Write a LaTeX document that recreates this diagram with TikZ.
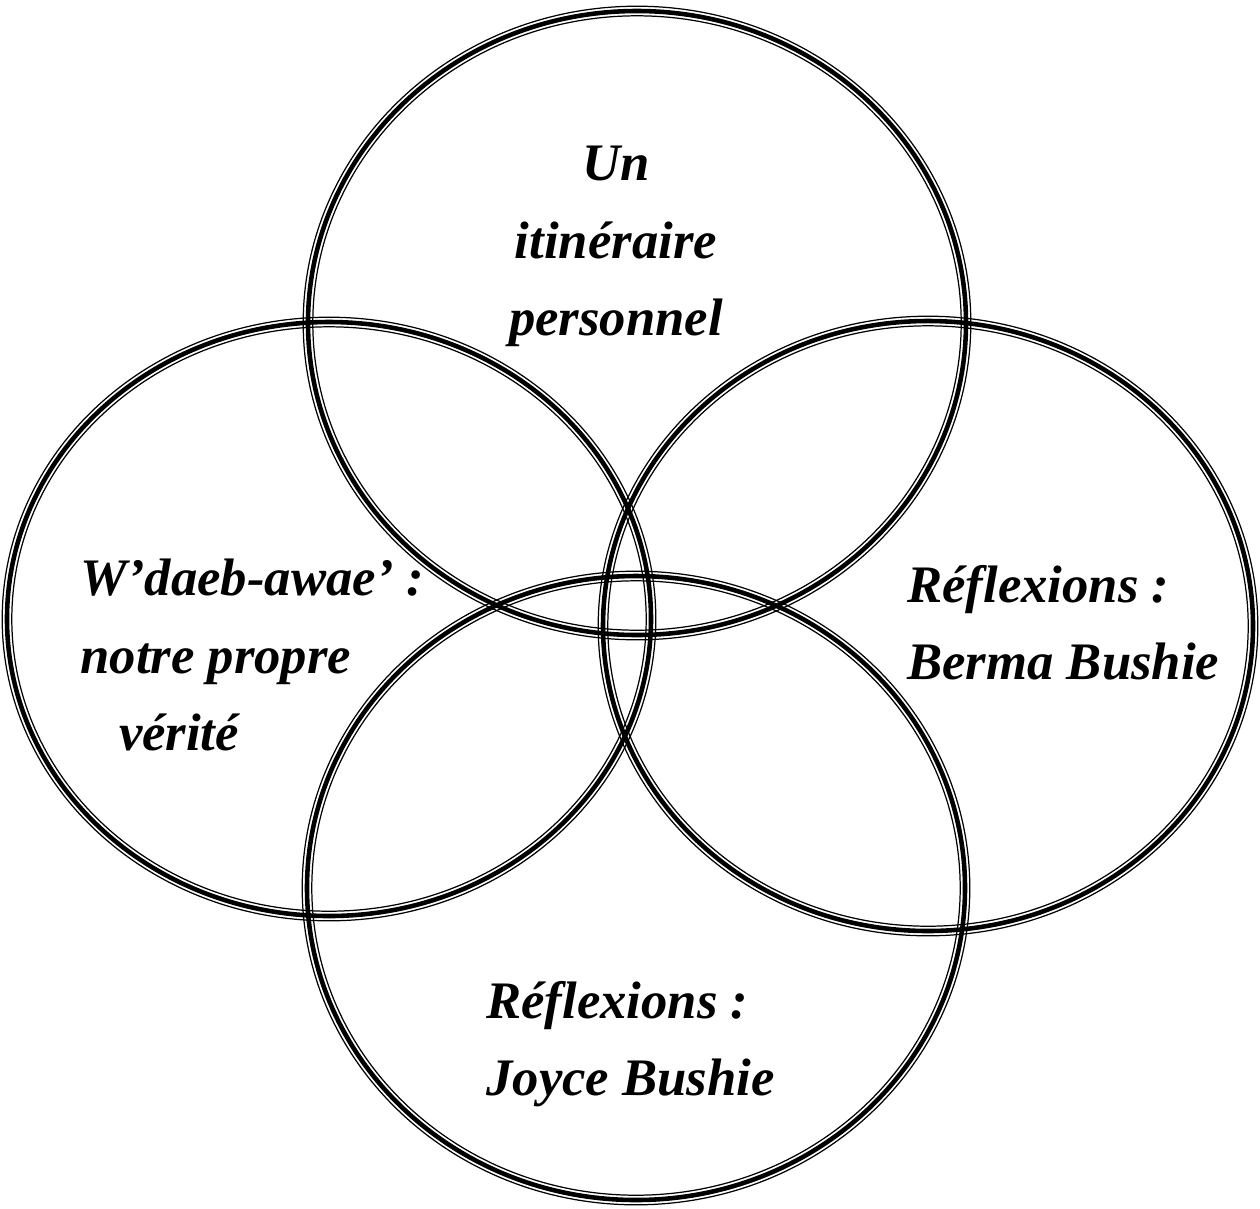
\documentclass[tikz,border=0pt]{standalone}
\usepackage{fontspec}
\setmainfont{Liberation Serif}
\usepackage{tikz}

% one ring of the diagram: thin line, thick line, thin line
\newcommand{\vennring}[3]{%
  \draw[ringthin] #1 ellipse [x radius=#2+4.8, y radius=#3+4.8];
  \draw[ringthin] #1 ellipse [x radius=#2-4.8, y radius=#3-4.8];
  \draw[ringthick] #1 ellipse [x radius=#2, y radius=#3];
}

\begin{document}
\begin{tikzpicture}[x=0.02cm,y=-0.02cm]

  \tikzset{ringthin/.style = {line width=0.7pt}}
  \tikzset{ringthick/.style = {line width=2.6pt}}
  \tikzset{label/.style = {inner sep=0pt, font=\fontsize{30}{44}\selectfont\bfseries\itshape}}
  \useasboundingbox (0,0) rectangle (1260,1208);
  % rings
  \coordinate (ctop)    at (637,323);
  \coordinate (cleft)   at (329,619);
  \coordinate (cright)  at (928,626);
  \coordinate (cbottom) at (636,888);
  \vennring{(ctop)}{329}{312}
  \vennring{(cleft)}{322}{297}
  \vennring{(cright)}{325}{305}
  \vennring{(cbottom)}{329}{312}
  % labels
  \node[label, align=center, anchor=north] (itin) at (616,146)
    {Un\\ itinéraire\\ personnel};
  \node[label, align=left, anchor=north west] (wdaeb) at (80,559)
    {W’daeb-awae’ :\\ notre propre\\ \hspace*{22pt}vérité};
  \node[label, align=left, anchor=north west] (berma) at (907,565)
    {Réflexions :\\ Berma Bushie};
  \node[label, align=left, anchor=north west] (joyce) at (486,981)
    {Réflexions :\\ Joyce Bushie};
\end{tikzpicture}
\end{document}
